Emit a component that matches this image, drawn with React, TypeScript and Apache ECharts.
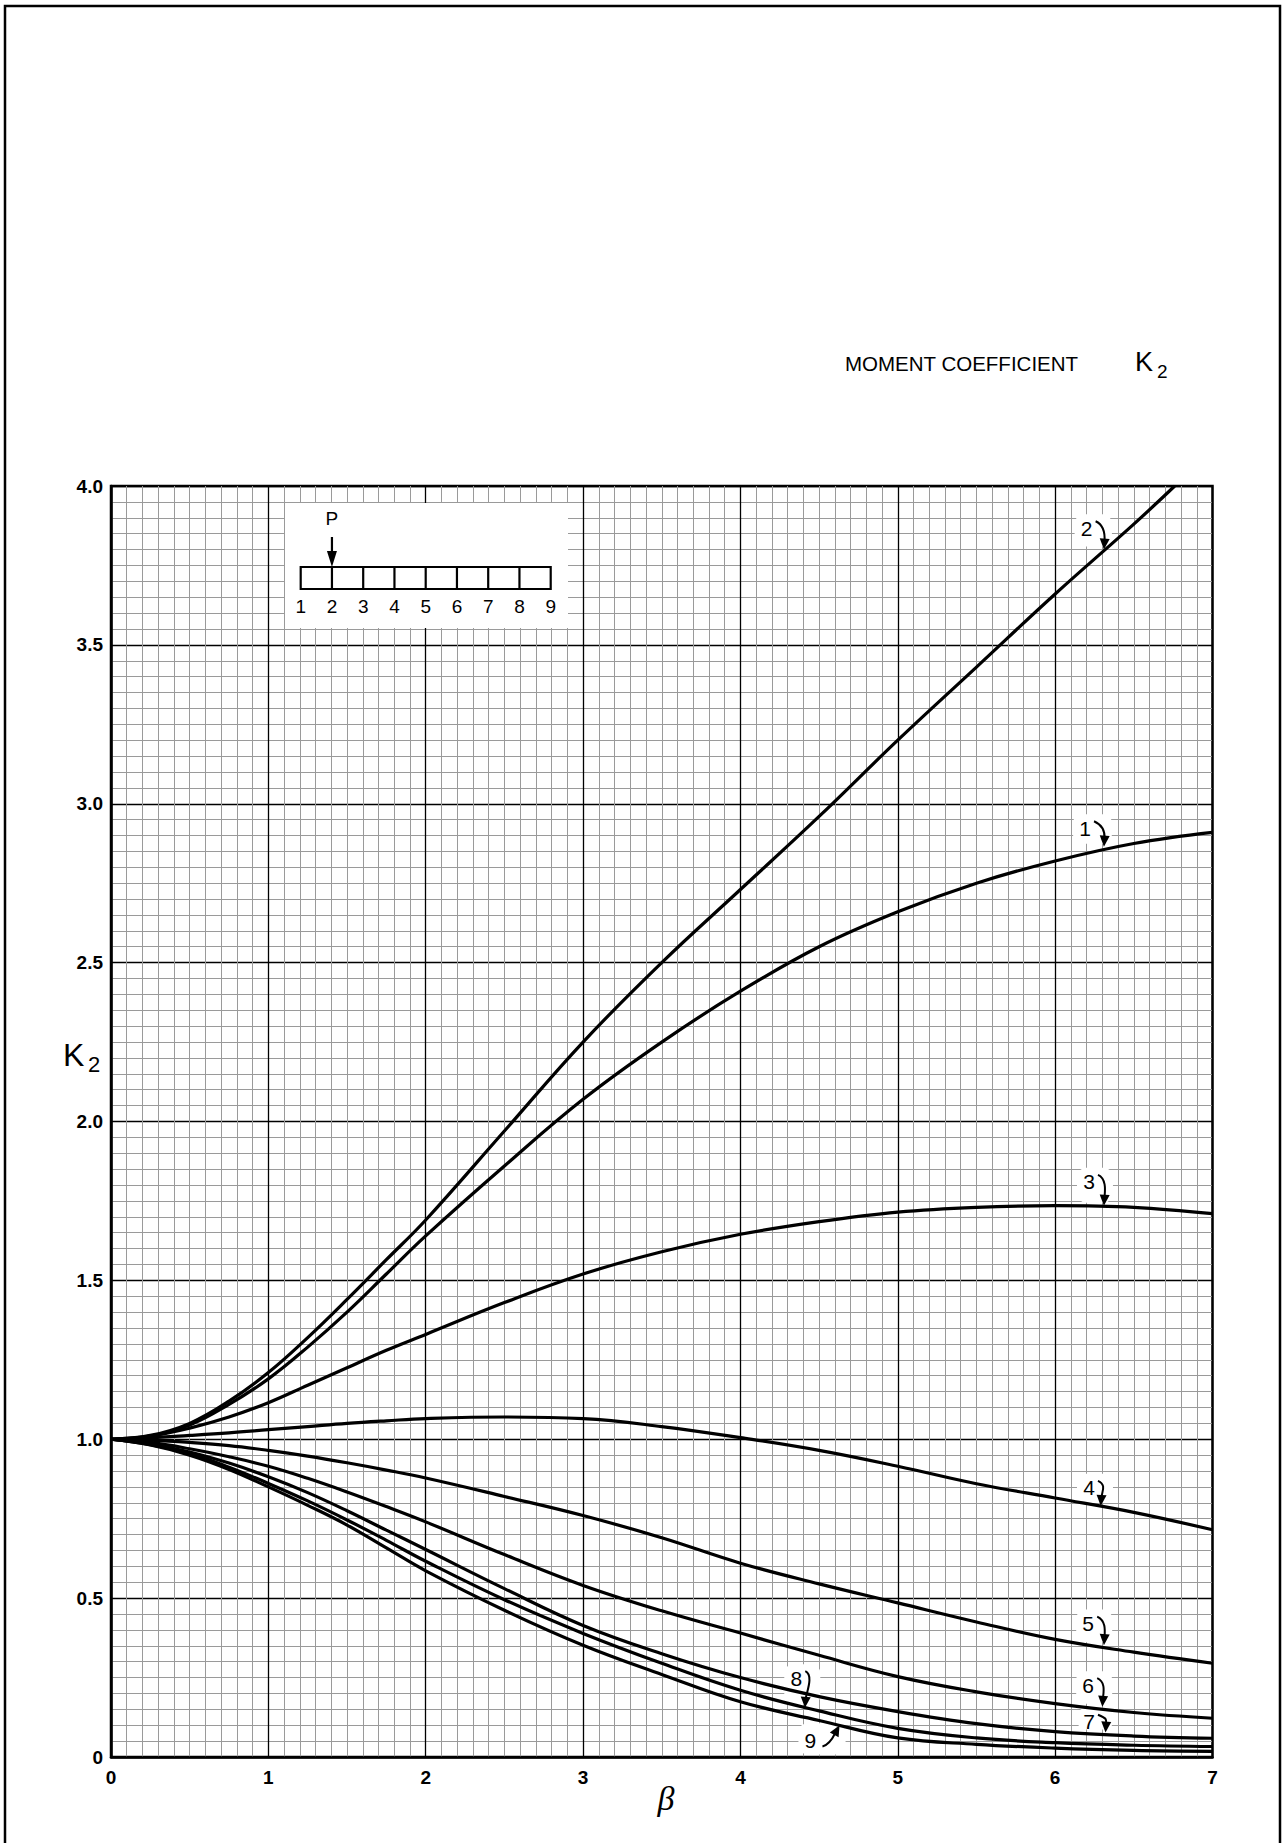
import React, { useEffect, useRef } from "react";
import * as echarts from "echarts";

const FONT = '"Liberation Sans", Arial, Helvetica, sans-serif';

// beta values (x)
const beta = [0, 0.25, 0.5, 0.75, 1, 1.25, 1.5, 1.75, 2, 2.5, 3, 3.5, 4, 4.5, 5, 5.5, 6, 6.5, 7];
const beta2 = [0, 0.25, 0.5, 0.75, 1, 1.25, 1.5, 1.75, 2, 2.5, 3, 3.5, 4, 4.5, 5, 5.5, 6, 6.5, 6.76];

// K2 values per curve (load at node 2)
const curve1 = [1.0, 1.01, 1.045, 1.11, 1.19, 1.29, 1.4, 1.52, 1.64, 1.86, 2.07, 2.25, 2.41, 2.55, 2.66, 2.75, 2.82, 2.875, 2.91];
const curve2 = [1.0, 1.012, 1.05, 1.12, 1.21, 1.32, 1.44, 1.565, 1.69, 1.97, 2.25, 2.5, 2.73, 2.96, 3.2, 3.43, 3.66, 3.88, 4.0];
const curve3 = [1.0, 1.01, 1.035, 1.07, 1.115, 1.17, 1.225, 1.28, 1.33, 1.43, 1.52, 1.59, 1.645, 1.685, 1.715, 1.73, 1.735, 1.73, 1.71];
const curve4 = [1.0, 1.005, 1.012, 1.02, 1.03, 1.04, 1.05, 1.058, 1.065, 1.07, 1.065, 1.04, 1.005, 0.965, 0.915, 0.86, 0.815, 0.77, 0.715];
const curve5 = [1.0, 0.997, 0.99, 0.98, 0.965, 0.947, 0.926, 0.903, 0.878, 0.82, 0.76, 0.69, 0.61, 0.545, 0.485, 0.425, 0.37, 0.33, 0.295];
const curve6 = [1.0, 0.99, 0.97, 0.945, 0.915, 0.877, 0.834, 0.788, 0.74, 0.637, 0.54, 0.46, 0.39, 0.32, 0.253, 0.205, 0.168, 0.14, 0.122];
const curve7 = [1.0, 0.985, 0.96, 0.925, 0.882, 0.832, 0.775, 0.714, 0.653, 0.53, 0.414, 0.325, 0.25, 0.19, 0.143, 0.105, 0.08, 0.066, 0.059];
const curve8 = [1.0, 0.983, 0.955, 0.912, 0.861, 0.806, 0.746, 0.682, 0.616, 0.495, 0.389, 0.295, 0.21, 0.145, 0.09, 0.06, 0.045, 0.037, 0.033];
const curve9 = [1.0, 0.982, 0.95, 0.905, 0.85, 0.792, 0.73, 0.658, 0.586, 0.462, 0.352, 0.26, 0.174, 0.115, 0.06, 0.04, 0.028, 0.021, 0.018];

// curve labels: text position and arrow tip (data units)
const labelNames = ["1", "2", "3", "4", "5", "6", "7", "8", "9"];
const labelTextBeta = [6.19, 6.2, 6.215, 6.215, 6.21, 6.21, 6.215, 4.355, 4.445];
const labelTextK = [2.923, 3.867, 1.81, 0.847, 0.42, 0.226, 0.111, 0.248, 0.052];
const arrowTipBeta = [6.31, 6.31, 6.31, 6.29, 6.31, 6.3, 6.32, 4.41, 4.63];
const arrowTipK = [2.865, 3.8, 1.735, 0.79, 0.352, 0.158, 0.077, 0.155, 0.1];

// inset beam node labels
const insetNodes = ["1", "2", "3", "4", "5", "6", "7", "8", "9"];

const xTicks = [0, 1, 2, 3, 4, 5, 6, 7];

export default function App() {
  const ref = useRef<HTMLDivElement>(null);

  useEffect(() => {
    if (!ref.current) return;
    const chart = echarts.init(ref.current, null, { renderer: "svg" });

    const curves = [curve1, curve2, curve3, curve4, curve5, curve6, curve7, curve8, curve9];
    const lineSeries = curves.map((vals, ci) => {
      const xs = ci === 1 ? beta2 : beta;
      return {
        type: "line",
        name: "curve" + (ci + 1),
        data: vals.map((v, i) => [xs[i], v]),
        showSymbol: false,
        smooth: 0.4,
        clip: true,
        z: 3,
        lineStyle: { color: "#000", width: 3.2 },
      };
    });

    const annotationData = labelNames.map((_, i) => [labelTextBeta[i], labelTextK[i], arrowTipBeta[i], arrowTipK[i]]);

    const annotationSeries = {
      type: "custom",
      z: 2,
      clip: false,
      silent: true,
      data: annotationData,
      encode: { x: [0, 2], y: [1, 3] },
      renderItem: (params: any, api: any) => {
        const p1 = api.coord([api.value(0), api.value(1)]);
        const p2 = api.coord([api.value(2), api.value(3)]);
        const label = labelNames[params.dataIndex];
        const down = p2[1] > p1[1];
        let s: number[], c1: number[], c2: number[];
        if (down) {
          s = [p1[0] + 9, p1[1] - 7];
          c1 = [p1[0] + 18, p1[1] - 3];
          c2 = [p2[0] + 1, p2[1] - 14];
        } else {
          s = [p1[0] + 12, p1[1] + 6];
          c1 = [p1[0] + 20, p1[1] + 4];
          c2 = [p2[0] - 5, p2[1] + 9];
        }
        let dx = p2[0] - c2[0];
        let dy = p2[1] - c2[1];
        const len = Math.hypot(dx, dy) || 1;
        dx /= len;
        dy /= len;
        const e = [p2[0] - dx * 8, p2[1] - dy * 8];
        const b = [p2[0] - dx * 11, p2[1] - dy * 11];
        const nx = -dy;
        const ny = dx;
        const head = [
          [p2[0], p2[1]],
          [b[0] + nx * 5, b[1] + ny * 5],
          [b[0] - nx * 5, b[1] - ny * 5],
        ];
        let x0: number, x1: number, y0: number, y1: number;
        if (down) {
          x0 = p1[0] - 12;
          x1 = Math.max(p1[0] + 24, p2[0] + 8);
          y0 = p1[1] - 14;
          y1 = p2[1] - 3;
        } else {
          x0 = p1[0] - 12;
          x1 = p2[0] + 6;
          y0 = p2[1] - 2;
          y1 = p1[1] + 14;
        }
        return {
          type: "group",
          children: [
            { type: "rect", shape: { x: x0, y: y0, width: x1 - x0, height: y1 - y0, r: 9 }, style: { fill: "#fff" } },
            {
              type: "text",
              x: p1[0],
              y: p1[1],
              style: { text: label, fill: "#000", fontSize: 21, fontFamily: FONT, align: "center", verticalAlign: "middle" },
            },
            {
              type: "bezierCurve",
              shape: { x1: s[0], y1: s[1], cpx1: c1[0], cpy1: c1[1], cpx2: c2[0], cpy2: c2[1], x2: e[0], y2: e[1] },
              style: { stroke: "#000", lineWidth: 2, fill: "none" },
            },
            { type: "polygon", shape: { points: head }, style: { fill: "#000" } },
          ],
        };
      },
    };

    // inset beam diagram geometry
    const beamX = 300.7;
    const beamY = 567;
    const cell = 31.25;
    const insetElems: any[] = [
      { type: "rect", z: 50, shape: { x: 285, y: 503, width: 283, height: 125 }, style: { fill: "#fff" } },
      {
        type: "rect",
        z: 51,
        shape: { x: beamX, y: beamY, width: cell * 8, height: 22 },
        style: { fill: "#fff", stroke: "#000", lineWidth: 2.2 },
      },
    ];
    for (let i = 1; i < 8; i++) {
      insetElems.push({
        type: "line",
        z: 52,
        shape: { x1: beamX + i * cell, y1: beamY, x2: beamX + i * cell, y2: beamY + 22 },
        style: { stroke: "#000", lineWidth: 2.2 },
      });
    }
    insetNodes.forEach((n, i) => {
      insetElems.push({
        type: "text",
        z: 52,
        x: beamX + i * cell,
        y: 606,
        style: { text: n, fill: "#000", fontSize: 19, fontFamily: FONT, align: "center", verticalAlign: "middle" },
      });
    });
    insetElems.push(
      {
        type: "text",
        z: 52,
        x: beamX + cell,
        y: 518,
        style: { text: "P", fill: "#000", fontSize: 19, fontFamily: FONT, align: "center", verticalAlign: "middle" },
      },
      {
        type: "line",
        z: 52,
        shape: { x1: beamX + cell, y1: 537, x2: beamX + cell, y2: 556 },
        style: { stroke: "#000", lineWidth: 2.2 },
      },
      {
        type: "polygon",
        z: 52,
        shape: { points: [[beamX + cell - 5, 551], [beamX + cell + 5, 551], [beamX + cell, 567]] },
        style: { fill: "#000" },
      }
    );

    const option: any = {
      animation: false,
      backgroundColor: "#fff",
      grid: {
        left: 111,
        top: 486,
        right: 70.5,
        bottom: 86,
        show: true,
        borderColor: "#000",
        borderWidth: 2.5,
        backgroundColor: "transparent",
        containLabel: false,
      },
      xAxis: {
        type: "value",
        min: 0,
        max: 7,
        interval: 1,
        axisLine: { show: true, onZero: false, lineStyle: { color: "#000", width: 2.5 } },
        axisTick: { show: false },
        axisLabel: {
          color: "#000",
          fontSize: 19,
          fontWeight: "bold",
          fontFamily: FONT,
          margin: 11,
          formatter: (v: number) => (xTicks.includes(v) ? String(v) : ""),
        },
        splitLine: { show: true, lineStyle: { color: "#000", width: 1.3 } },
        minorTick: { show: false, splitNumber: 10 },
        minorSplitLine: { show: true, lineStyle: { color: "#9a9a9a", width: 1 } },
      },
      yAxis: {
        type: "value",
        min: 0,
        max: 4,
        interval: 0.5,
        axisLine: { show: true, onZero: false, lineStyle: { color: "#000", width: 2.5 } },
        axisTick: { show: false },
        axisLabel: {
          color: "#000",
          fontSize: 19,
          fontWeight: "bold",
          fontFamily: FONT,
          margin: 8,
          formatter: (v: number) => (v === 0 ? "0" : v.toFixed(1)),
        },
        splitLine: { show: true, lineStyle: { color: "#000", width: 1.3 } },
        minorTick: { show: false, splitNumber: 10 },
        minorSplitLine: { show: true, lineStyle: { color: "#9a9a9a", width: 1 } },
      },
      graphic: [
        {
          type: "polyline",
          z: 100,
          shape: { points: [[5, 1860], [5, 6], [1280, 6], [1280, 1860]] },
          style: { stroke: "#000", lineWidth: 2.5, fill: "none" },
        },
        {
          type: "text",
          z: 100,
          x: 845,
          y: 363,
          style: { text: "MOMENT COEFFICIENT", fill: "#000", fontSize: 20.5, fontFamily: FONT, align: "left", verticalAlign: "middle" },
        },
        {
          type: "text",
          z: 100,
          x: 1135,
          y: 362,
          style: { text: "K", fill: "#000", fontSize: 27, fontFamily: FONT, align: "left", verticalAlign: "middle" },
        },
        {
          type: "text",
          z: 100,
          x: 1157,
          y: 371,
          style: { text: "2", fill: "#000", fontSize: 19, fontFamily: FONT, align: "left", verticalAlign: "middle" },
        },
        {
          type: "text",
          z: 100,
          x: 63,
          y: 1055,
          style: { text: "K", fill: "#000", fontSize: 32, fontFamily: FONT, align: "left", verticalAlign: "middle" },
        },
        {
          type: "text",
          z: 100,
          x: 88,
          y: 1064,
          style: { text: "2", fill: "#000", fontSize: 22, fontFamily: FONT, align: "left", verticalAlign: "middle" },
        },
        {
          type: "text",
          z: 100,
          x: 666,
          y: 1798,
          style: {
            text: "β",
            fill: "#000",
            fontSize: 34,
            fontStyle: "italic",
            fontFamily: '"Liberation Serif", "DejaVu Serif", serif',
            align: "center",
            verticalAlign: "middle",
          },
        },
        ...insetElems,
      ],
      series: [...lineSeries, annotationSeries],
    };

    chart.setOption(option);
    return () => chart.dispose();
  }, []);

  return (
    <div
      ref={ref}
      style={{ position: "fixed", left: 0, top: 0, width: "1283px", height: "1843px", background: "#fff" }}
    />
  );
}
